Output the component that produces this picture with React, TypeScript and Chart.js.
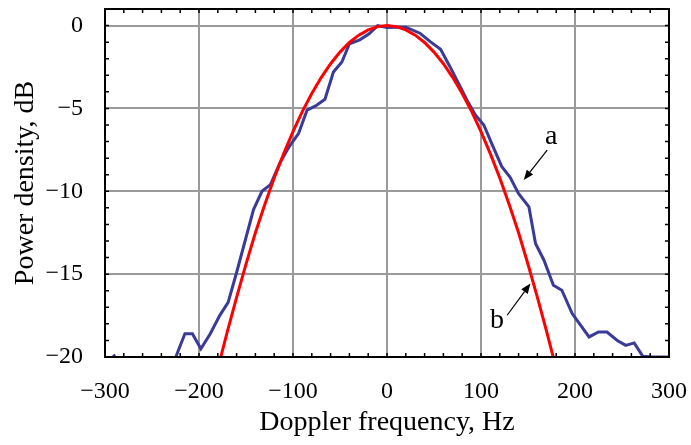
import React, { useEffect, useRef } from "react";
import { Chart, registerables } from "chart.js";

Chart.register(...registerables);

// Measured spectrum (curve a)
const blueFreq = [-291, -282, -262, -243, -233, -215, -207, -198, -188, -178, -169, -160, -151, -142, -133, -124, -114, -104, -94, -85, -76, -66, -57, -48, -40, -29, -19, -10, 0, 10, 20, 35, 46, 57, 67, 76, 85, 94, 103, 112, 122, 131, 140, 151, 158, 167, 177, 186, 197, 215, 225, 234, 245, 254, 263, 272, 282, 300];
const blueDb = [-19.85, -20.8, -21.5, -21.5, -21.2, -18.6, -18.6, -19.5, -18.6, -17.5, -16.7, -14.9, -13.0, -11.1, -10.0, -9.6, -8.3, -7.3, -6.5, -5.1, -4.85, -4.45, -2.8, -2.2, -1.1, -0.86, -0.5, 0.0, -0.12, -0.1, -0.1, -0.46, -0.97, -1.43, -2.48, -3.48, -4.49, -5.4, -6.0, -7.2, -8.5, -9.15, -10.15, -10.94, -13.15, -14.16, -15.67, -15.97, -17.38, -18.79, -18.49, -18.49, -19.0, -19.3, -19.15, -19.95, -20, -20];

// Fitted spectrum (curve b)
const redFreq = [-190, -180, -170, -160, -150, -140, -130, -120, -110, -100, -90, -80, -70, -60, -50, -40, -30, -20, -10, 0, 10, 20, 30, 40, 50, 60, 70, 80, 90, 100, 110, 120, 130, 140, 150, 160, 170, 180, 190];
const redDb = [-23.1, -20.7, -18.5, -16.4, -14.4, -12.5, -10.8, -9.2, -7.74, -6.4, -5.18, -4.1, -3.14, -2.3, -1.6, -1.02, -0.58, -0.26, -0.064, 0, -0.064, -0.26, -0.58, -1.02, -1.6, -2.3, -3.14, -4.1, -5.18, -6.4, -7.74, -9.2, -10.8, -12.5, -14.4, -16.4, -18.5, -20.7, -23.1];

const xTicks = [-300, -200, -100, 0, 100, 200, 300];
const yTicks = [-20, -15, -10, -5, 0];
const xMinorStep = 20;
const yMinorStep = 1;

const xTitle = "Doppler frequency, Hz";
const yTitle = "Power density, dB";

// Curve labels with arrows, in data coordinates
const curveLabels = [
  { text: "a", tx: 174.8, ty: -7.17, fromX: 170.4, fromY: -7.51, toX: 145.5, toY: -9.32 },
  { text: "b", tx: 117.1, ty: -18.28, fromX: 127.8, fromY: -17.48, toX: 152.6, toY: -15.57 },
];

const FONT = "'Liberation Serif', 'Times New Roman', serif";

const fmt = (v: number | string) => String(v).replace("-", "\u2212");

const decorPlugin = {
  id: "decor",
  afterDraw(chart: any) {
    const { ctx, chartArea } = chart;
    const xs = chart.scales.x;
    const ys = chart.scales.y;
    const { left, right, top, bottom } = chartArea;
    ctx.save();
    ctx.strokeStyle = "#000";
    ctx.lineWidth = 1.5;
    const tl = 4;
    ctx.beginPath();
    for (let v = xs.min; v <= xs.max + 1e-9; v += xMinorStep) {
      const px = xs.getPixelForValue(v);
      ctx.moveTo(px, bottom);
      ctx.lineTo(px, bottom - tl);
      ctx.moveTo(px, top);
      ctx.lineTo(px, top + tl);
    }
    for (let v = ys.min; v <= ys.max + 1e-9; v += yMinorStep) {
      const py = ys.getPixelForValue(v);
      ctx.moveTo(left, py);
      ctx.lineTo(left + tl, py);
      ctx.moveTo(right, py);
      ctx.lineTo(right - tl, py);
    }
    ctx.stroke();
    ctx.lineWidth = 2;
    ctx.strokeRect(left, top, right - left, bottom - top);

    // labels and arrows
    ctx.fillStyle = "#000";
    ctx.font = `28px ${FONT}`;
    ctx.textAlign = "center";
    ctx.textBaseline = "alphabetic";
    for (const l of curveLabels) {
      ctx.fillText(l.text, xs.getPixelForValue(l.tx), ys.getPixelForValue(l.ty));
      const x1 = xs.getPixelForValue(l.fromX);
      const y1 = ys.getPixelForValue(l.fromY);
      const x2 = xs.getPixelForValue(l.toX);
      const y2 = ys.getPixelForValue(l.toY);
      const ang = Math.atan2(y2 - y1, x2 - x1);
      const hl = 10;
      const hw = 4;
      const bx = x2 - hl * Math.cos(ang);
      const by = y2 - hl * Math.sin(ang);
      ctx.lineWidth = 1.2;
      ctx.beginPath();
      ctx.moveTo(x1, y1);
      ctx.lineTo(bx, by);
      ctx.stroke();
      ctx.beginPath();
      ctx.moveTo(x2, y2);
      ctx.lineTo(bx + hw * Math.sin(ang), by - hw * Math.cos(ang));
      ctx.lineTo(bx - hw * Math.sin(ang), by + hw * Math.cos(ang));
      ctx.closePath();
      ctx.fill();
    }
    ctx.restore();
  },
};

export default function App() {
  const ref = useRef<HTMLCanvasElement | null>(null);
  useEffect(() => {
    if (!ref.current) return;
    const chart = new Chart(ref.current, {
      type: "line",
      data: {
        datasets: [
          {
            label: "b",
            data: redFreq.map((f, i) => ({ x: f, y: redDb[i] })),
            borderColor: "#ff0000",
            borderWidth: 3,
            pointRadius: 0,
            tension: 0,
            clip: 0,
          },
          {
            label: "a",
            data: blueFreq.map((f, i) => ({ x: f, y: blueDb[i] })),
            borderColor: "#3a3a98",
            borderWidth: 3,
            pointRadius: 0,
            tension: 0,
            clip: 0,
          },
        ],
      },
      options: {
        responsive: false,
        animation: false,
        layout: { padding: { top: 9, right: 22, bottom: 0, left: 0 } },
        plugins: { legend: { display: false }, tooltip: { enabled: false } },
        scales: {
          x: {
            type: "linear",
            min: -300,
            max: 300,
            afterBuildTicks: (s: any) => {
              s.ticks = xTicks.map((value) => ({ value }));
            },
            afterFit: (s: any) => {
              s.height = 88;
              s.paddingLeft = 0;
              s.paddingRight = 0;
            },
            grid: { color: "#9a9a9a", lineWidth: 2, drawTicks: false },
            border: { display: false },
            ticks: {
              padding: 20,
              color: "#000",
              font: { family: FONT, size: 24 },
              callback: (v: any) => fmt(v),
              maxRotation: 0,
            },
            title: {
              display: true,
              text: xTitle,
              color: "#000",
              font: { family: FONT, size: 28 },
              padding: { top: 0, bottom: 6 },
            },
          },
          y: {
            type: "linear",
            min: -20,
            max: 1,
            afterBuildTicks: (s: any) => {
              s.ticks = yTicks.map((value) => ({ value }));
            },
            afterFit: (s: any) => {
              s.width = 105;
              s.paddingTop = 0;
              s.paddingBottom = 0;
            },
            grid: { color: "#9a9a9a", lineWidth: 2, drawTicks: false },
            border: { display: false },
            ticks: {
              padding: 22,
              color: "#000",
              font: { family: FONT, size: 24 },
              callback: (v: any) => fmt(v),
            },
            title: {
              display: true,
              text: yTitle,
              color: "#000",
              font: { family: FONT, size: 28 },
              padding: { top: 9, bottom: 0 },
            },
          },
        },
      },
      plugins: [decorPlugin],
    });
    return () => chart.destroy();
  }, []);
  return (
    <div style={{ position: "fixed", left: 0, top: 0, width: 691, height: 445, background: "#fff" }}>
      <canvas ref={ref} width={691} height={445} />
    </div>
  );
}
